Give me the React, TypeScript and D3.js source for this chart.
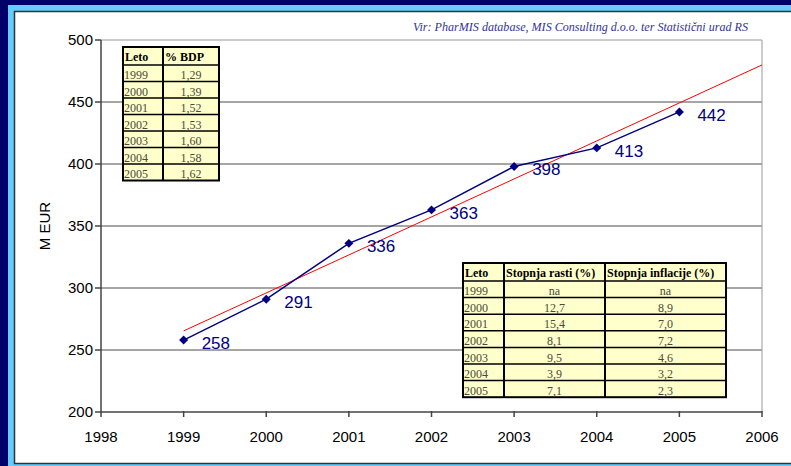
import React from "react";
import * as d3 from "d3";

const years = [1999, 2000, 2001, 2002, 2003, 2004, 2005];
const values = [258, 291, 336, 363, 398, 413, 442];
const trendYears = [1999, 2006];
const trendValues = [265.4, 479.9];
const xTicks = [1998, 1999, 2000, 2001, 2002, 2003, 2004, 2005, 2006];
const yTicks = [200, 250, 300, 350, 400, 450, 500];

const tableYears = ["1999", "2000", "2001", "2002", "2003", "2004", "2005"];
const bdpPct = ["1,29", "1,39", "1,52", "1,53", "1,60", "1,58", "1,62"];
const growthRate = ["na", "12,7", "15,4", "8,1", "9,5", "3,9", "7,1"];
const inflationRate = ["na", "8,9", "7,0", "7,2", "4,6", "3,2", "2,3"];

const sourceText = "Vir: PharMIS database, MIS Consulting d.o.o. ter Statistični urad RS";

const W = 791;
const H = 466;
const plot = { left: 101, right: 762, top: 40, bottom: 412 };

const NAVY = "#000080";

function Table({ x, y, colW, headerH, rowH, headers, cols }: any) {
  const totalW = colW.reduce((a: number, b: number) => a + b, 0);
  const totalH = headerH + rowH * cols[0].length;
  const colX: number[] = [];
  let acc = x;
  colW.forEach((w: number) => {
    colX.push(acc);
    acc += w;
  });
  const serif = "'Liberation Serif', 'Times New Roman', serif";
  return (
    <g>
      <rect x={x} y={y} width={totalW} height={totalH} fill="#ffffcc" />
      {cols[0].map((_: any, i: number) => (
        <line key={"h" + i} x1={x} x2={x + totalW} y1={y + headerH + rowH * i} y2={y + headerH + rowH * i} stroke="#000" strokeWidth={1.5} />
      ))}
      {colX.slice(1).map((cx, i) => (
        <line key={"v" + i} x1={cx} x2={cx} y1={y} y2={y + totalH} stroke="#000" strokeWidth={2} />
      ))}
      <rect x={x} y={y} width={totalW} height={totalH} fill="none" stroke="#000" strokeWidth={2} />
      {headers.map((h: string, j: number) => (
        <text key={"ht" + j} x={colX[j] + 2} y={y + headerH - 4} fontFamily={serif} fontWeight="bold" fontSize={12} fill="#000">
          {h}
        </text>
      ))}
      {cols.map((col: string[], j: number) =>
        col.map((v, i) => (
          <text
            key={"c" + j + "-" + i}
            x={j === 0 ? colX[j] + 1 : colX[j] + colW[j] / 2}
            y={y + headerH + rowH * (i + 1) - 2.5}
            textAnchor={j === 0 ? "start" : "middle"}
            fontFamily={serif}
            fontSize={12}
            fill="#4a4a3a"
          >
            {v}
          </text>
        ))
      )}
    </g>
  );
}

export default function App() {
  const x = d3.scaleLinear().domain([1998, 2006]).range([plot.left, plot.right]);
  const y = d3.scaleLinear().domain([200, 500]).range([plot.bottom, plot.top]);
  const line = d3
    .line<number>()
    .x((_, i) => x(years[i]))
    .y((d) => y(d));
  const trend = d3
    .line<number>()
    .x((_, i) => x(trendYears[i]))
    .y((d) => y(d));
  const sans = "'Liberation Sans', Arial, sans-serif";
  const diamond = d3.symbol().type(d3.symbolSquare).size(40)();

  return (
    <svg width={W} height={H} style={{ position: "absolute", left: 0, top: 0 }}>
      <rect x={0} y={0} width={W} height={H} fill="#00006b" />
      <rect x={8} y={5} width={W} height={H} fill="#66ccff" />
      <rect x={14.5} y={11.5} width={W} height={452} fill="#fff" stroke="#333" strokeWidth={1.5} />

      <text x={748} y={31} textAnchor="end" fontFamily="'Liberation Serif', 'Times New Roman', serif" fontStyle="italic" fontSize={13} fill="#333399" textLength={335} lengthAdjust="spacingAndGlyphs">
        {sourceText}
      </text>

      {yTicks.slice(1, -1).map((t) => (
        <line key={"g" + t} x1={plot.left} x2={plot.right} y1={y(t)} y2={y(t)} stroke="#4d4d4d" strokeWidth={1} />
      ))}
      <line x1={plot.left} x2={plot.right} y1={plot.top} y2={plot.top} stroke="#999" strokeWidth={1} />
      <line x1={plot.right} x2={plot.right} y1={plot.top} y2={plot.bottom} stroke="#999" strokeWidth={1} />

      <line x1={plot.left} x2={plot.left} y1={plot.top} y2={plot.bottom} stroke="#444" strokeWidth={1.5} />
      <line x1={plot.left} x2={plot.right} y1={plot.bottom} y2={plot.bottom} stroke="#444" strokeWidth={1.5} />
      {yTicks.map((t) => (
        <g key={"yt" + t}>
          <line x1={plot.left - 6} x2={plot.left} y1={y(t)} y2={y(t)} stroke="#444" strokeWidth={1.5} />
          <text x={93} y={y(t)} dy="0.35em" textAnchor="end" fontFamily={sans} fontSize={15} fill="#000">
            {t}
          </text>
        </g>
      ))}
      {xTicks.map((t) => (
        <g key={"xt" + t}>
          <line x1={x(t)} x2={x(t)} y1={plot.bottom - 1} y2={plot.bottom + 5} stroke="#444" strokeWidth={1.5} />
          <text x={x(t)} y={437} dy="0.35em" textAnchor="middle" fontFamily={sans} fontSize={15} fill="#000">
            {t}
          </text>
        </g>
      ))}
      <text transform={`translate(50,${(plot.top + plot.bottom) / 2}) rotate(-90)`} textAnchor="middle" fontFamily={sans} fontSize={15} fill="#000">
        M EUR
      </text>

      <Table x={123} y={47} colW={[40, 56]} headerH={18} rowH={16.5} headers={["Leto", "% BDP"]} cols={[tableYears, bdpPct]} />
      <Table
        x={463}
        y={263}
        colW={[41, 101, 121]}
        headerH={18}
        rowH={16.6}
        headers={["Leto", "Stopnja rasti (%)", "Stopnja inflacije (%)"]}
        cols={[tableYears, growthRate, inflationRate]}
      />

      <path d={trend(trendValues) || ""} fill="none" stroke="#ff0000" strokeWidth={1} />
      <path d={line(values) || ""} fill="none" stroke={NAVY} strokeWidth={1.5} />
      {values.map((v, i) => (
        <path key={"m" + i} d={diamond || ""} transform={`translate(${x(years[i])},${y(v)}) rotate(45)`} fill={NAVY} />
      ))}
      {values.map((v, i) => (
        <text key={"l" + i} x={x(years[i]) + 18} y={y(v) + 3} dy="0.35em" fontFamily={sans} fontSize={17} fill={NAVY}>
          {v}
        </text>
      ))}
    </svg>
  );
}
